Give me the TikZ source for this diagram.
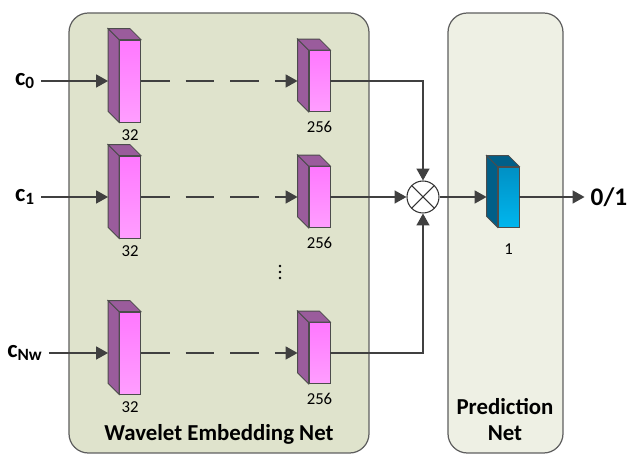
\documentclass[tikz,border=0pt]{standalone}
\usepackage{fontspec}
\setmainfont{Carlito}
\usetikzlibrary{arrows.meta,positioning}

\definecolor{embedbg}{HTML}{DFE3CC}
\definecolor{predbg}{HTML}{EEF0E4}
\definecolor{panelline}{HTML}{5F5F5F}
\definecolor{pinkdark}{HTML}{FF78FF}
\definecolor{pinklight}{HTML}{FF9EFF}
\definecolor{pinkside}{HTML}{9A5C9C}
\definecolor{bluedark}{HTML}{0090C4}
\definecolor{bluelight}{HTML}{00B6EE}
\definecolor{blueside}{HTML}{005F88}
\definecolor{wire}{HTML}{404040}

\tikzset{
  panel/.style={draw=panelline, line width=0.7pt, rounded corners=11pt},
  layer/.style={draw=black!70, line width=0.5pt, inner sep=0pt, minimum width=0.42cm},
  pinklayer/.style={layer, top color=pinkdark, bottom color=pinklight},
  bluelayer/.style={layer, top color=bluedark, bottom color=bluelight, minimum height=1.2cm},
  tall/.style={minimum height=1.64cm},
  short/.style={minimum height=1.22cm},
  arr/.style={draw=wire, line width=0.85pt, -{Triangle[length=6.8pt,width=7.4pt]}},
  numlab/.style={font=\fontsize{9.5}{11}\selectfont, inner sep=1pt},
  title/.style={font=\bfseries\fontsize{13}{14.8}\selectfont},
}

% side and top faces behind a front node
\newcommand{\layerdepth}[2]{
  \filldraw[fill=#2, draw=black!70, line width=0.5pt]
    (#1.north west) -- (#1.south west) -- ([shift={(-0.22cm,0.22cm)}]#1.south west)
    -- ([shift={(-0.22cm,0.22cm)}]#1.north west) -- cycle;
  \filldraw[fill=#2, draw=black!70, line width=0.5pt]
    (#1.north west) -- ([shift={(-0.22cm,0.22cm)}]#1.north west)
    -- ([shift={(-0.22cm,0.22cm)}]#1.north east) -- (#1.north east) -- cycle;
}

\begin{document}
\begin{tikzpicture}[x=0.02cm, y=-0.02cm]
  \useasboundingbox (0,0) rectangle (627,455);
  \draw[panel, fill=embedbg] (69,13) rectangle (369,453);
  \draw[panel, fill=predbg] (448,13) rectangle (563,453);

  \foreach \row/\yy/\sub in {0/81/0, 1/197/1, 2/353/Nw} {
    \node[font=\bfseries\fontsize{14}{16}\selectfont] (c\row) at (25,\yy) {c\textsubscript{\sub}};
    \node[pinklayer, tall] (a\row) at (130,\yy) {};
    \layerdepth{a\row}{pinkside}
    \node[numlab, below=3pt of a\row] (a\row lab) {32};
    \node[pinklayer, short] (e\row) at (319.5,\yy) {};
    \layerdepth{e\row}{pinkside}
    \node[numlab, below=4pt of e\row] (e\row lab) {256};
    \draw[arr] (c\row.east) -- ([xshift=-0.22cm]a\row.west);
    \draw[arr, dash pattern=on 16.4pt off 9pt] (a\row.east) -- ([xshift=-0.22cm]e\row.west);
  }
  \foreach \dy in {266,272,278} \fill (280,\dy) circle (1.4);

  \node[circle, draw=black!80, fill=white, line width=0.6pt, minimum size=0.64cm,
        path picture={\draw[black!80, line width=0.6pt]
          (path picture bounding box.north west) -- (path picture bounding box.south east)
          (path picture bounding box.north east) -- (path picture bounding box.south west);}]
    (mul) at (423,197) {};
  \draw[arr] (e0.east) -| (mul.north);
  \draw[arr] (e1.east) -- (mul.west);
  \draw[arr] (e2.east) -| (mul.south);

  \node[bluelayer] (pn) at (508.5,197) {};
  \layerdepth{pn}{blueside}
  \node[numlab, below=8pt of pn] (pnlab) {1};
  \draw[arr] (mul.east) -- ([xshift=-0.22cm]pn.west);
  \node[font=\bfseries\Large] (out) at (609,197) {0/1};
  \draw[arr] (pn.east) -- (out.west);

  \node[title] (embedtitle) at (219,434) {Wavelet Embedding Net};
  \node[title, align=center] (predtitle) at (505,420) {Prediction\\Net};
\end{tikzpicture}
\end{document}
